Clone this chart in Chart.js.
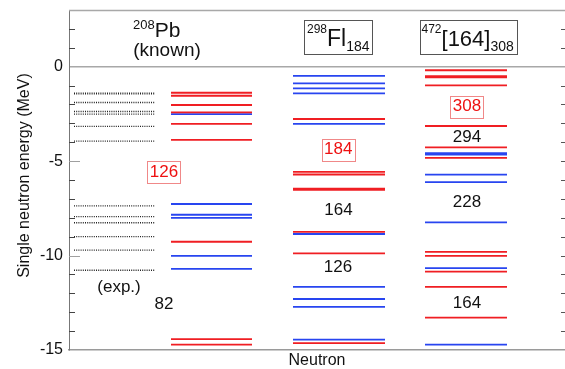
<!DOCTYPE html>
<html><head><meta charset="utf-8">
<script src="https://cdn.jsdelivr.net/npm/chart.js@4/dist/chart.umd.min.js"></script>
<style>html,body{margin:0;padding:0;background:#fff}canvas{display:block}</style>
</head><body>
<canvas id="c" width="565" height="369"></canvas>
<script>
// ---- data (MeV) ----
const expLevels = [-1.40, -1.44, -1.90, -2.37, -2.51, -3.16, -3.94, -7.37, -7.94, -8.26, -9.00, -9.71, -10.78];
const pbRed  = [-1.38, -1.54, -2.03, -2.42, -3.03, -3.88, -9.27, -14.42, -14.72];
const pbBlue = [-2.51, -7.27, -7.84, -8.00, -10.02, -10.71];
const flRed  = [-2.77, -5.57, -5.71, -6.46, -6.52, -8.75, -9.88, -14.64];
const flBlue = [-0.49, -0.88, -1.15, -1.41, -3.03, -8.86, -11.66, -12.30, -12.72, -14.45];
const sheRed  = [-0.19, -0.50, -0.56, -0.99, -3.14, -4.27, -4.83, -9.81, -10.02, -10.85, -11.66, -13.29];
const sheBlue = [-4.58, -4.66, -5.72, -6.11, -8.24, -10.67, -14.72];
const magicLabels = ['(exp.)', '82', '126', '184', '164', '126', '308', '294', '228', '164'];
const yTickLabels = [0, -5, -10, -15];

// ---- layout (not data) ----
const FONT = '"Liberation Sans", Arial, Helvetica, sans-serif';
const RED = '#f01e23', BLUE = '#2845f0';
const cols = { exp: [5, 86], pb: [102, 183], fl: [224, 316], she: [356, 438] };
const labelPos = [
  {x: 50, y: -11.66, box: false, color: '#111'},
  {x: 95, y: -12.56, box: false, color: '#111'},
  {x: 95, y: -5.58, box: true, color: '#ee1111'},
  {x: 269.3, y: -4.40, box: true, color: '#ee1111'},
  {x: 269.5, y: -7.59, box: false, color: '#111'},
  {x: 269, y: -10.64, box: false, color: '#111'},
  {x: 398, y: -2.11, box: true, color: '#ee1111'},
  {x: 398, y: -3.72, box: false, color: '#111'},
  {x: 398, y: -7.16, box: false, color: '#111'},
  {x: 398, y: -12.53, box: false, color: '#111'}
];

function segs(levels, span) {
  const d = [];
  levels.forEach(E => { d.push({x: span[0], y: E}, {x: span[1], y: E}, {x: span[1], y: null}); });
  return d;
}
function ds(levels, span, color, extra) {
  return Object.assign({
    data: segs(levels, span), borderColor: color, borderWidth: 1.8,
    pointRadius: 0, spanGaps: false, fill: false, tension: 0
  }, extra || {});
}

const overlay = {
  id: 'overlay',
  afterDatasetsDraw(chart) {
    const {ctx, chartArea: a, scales: {x, y}} = chart;
    const X = v => x.getPixelForValue(v), Y = v => y.getPixelForValue(v);
    ctx.save();
    // top border
    ctx.strokeStyle = '#a8a8a8'; ctx.lineWidth = 1.5;
    ctx.beginPath(); ctx.moveTo(a.left, a.top + 0.5); ctx.lineTo(a.right, a.top + 0.5); ctx.stroke();
    // inward ticks
    ctx.lineWidth = 1;
    for (let v = -14; v <= 2; v++) {
      if (v === 0) continue;
      const major = v % 5 === 0;
      const py = Math.round(Y(v)) + 0.5;
      ctx.strokeStyle = major ? '#a0a0a0' : '#444';
      ctx.beginPath(); ctx.moveTo(a.left, py); ctx.lineTo(a.left + (major ? 11 : 6), py); ctx.stroke();
      ctx.strokeStyle = '#555';
      ctx.beginPath(); ctx.moveTo(a.right - 4, py); ctx.lineTo(a.right, py); ctx.stroke();
    }
    // magic-number labels
    ctx.font = '17px ' + FONT; ctx.textAlign = 'center'; ctx.textBaseline = 'middle';
    magicLabels.forEach((t, i) => {
      const p = labelPos[i], px = X(p.x), py = Y(p.y);
      if (p.box) {
        const w = ctx.measureText(t).width + 5;
        ctx.strokeStyle = '#f08888'; ctx.lineWidth = 1;
        ctx.strokeRect(Math.round(px - w / 2) + 0.5, Math.round(py - 11) + 0.5, Math.round(w), 22);
      }
      ctx.fillStyle = p.color; ctx.fillText(t, px, py);
    });
    // nucleus titles: sequences of [text, size, baselineE]
    ctx.textAlign = 'left'; ctx.textBaseline = 'alphabetic'; ctx.fillStyle = '#111';
    const run = (xu, parts) => {
      let px = X(xu);
      parts.forEach(([t, size, E]) => {
        ctx.font = size + 'px ' + FONT; ctx.fillText(t, px, Y(E)); px += ctx.measureText(t).width;
      });
    };
    run(64, [['208', 13, 1.994], ['Pb', 21, 1.571]]);
    ctx.textAlign = 'center'; ctx.font = '19px ' + FONT; ctx.fillText('(known)', X(98), Y(0.565)); ctx.textAlign = 'left';
    ctx.strokeStyle = '#555'; ctx.lineWidth = 1;
    const box = (x0, x1) => { const yt = Math.round(Y(2.471)) + 0.5, yb = Math.round(Y(0.671)) + 0.5;
      ctx.strokeRect(Math.round(X(x0)) + 0.5, yt, Math.round(X(x1) - X(x0)), yb - yt); };
    box(235.3, 303);
    run(238, [['298', 12, 1.782], ['Fl', 23, 1.094], ['184', 14, 0.829]]);
    box(350.5, 447);
    run(352.5, [['472', 12, 1.782], ['[164]', 22, 1.094], ['308', 14, 0.829]]);
    ctx.restore();
  }
};

new Chart(document.getElementById('c'), {
  type: 'line',
  data: {
    datasets: [
      ds(expLevels, cols.exp, '#222', {borderWidth: 1.4, borderDash: [1, 1.2]}),
      ds(pbRed, cols.pb, RED), ds(pbBlue, cols.pb, BLUE),
      ds(flRed, cols.fl, RED), ds(flBlue, cols.fl, BLUE),
      ds(sheRed, cols.she, RED), ds(sheBlue, cols.she, BLUE)
    ]
  },
  options: {
    responsive: false, animation: false, devicePixelRatio: 1,
    layout: {padding: {top: 10, right: 0, left: 0, bottom: 0}},
    plugins: {legend: {display: false}, tooltip: {enabled: false}},
    scales: {
      x: {
        type: 'linear', min: 0, max: 496,
        ticks: {display: false}, grid: {display: false},
        border: {display: true, color: '#9a9a9a', width: 1.5},
        title: {display: true, text: 'Neutron', color: '#111', font: {family: FONT, size: 16, lineHeight: 1}, padding: {top: 0, bottom: 0}},
        afterFit(s) { s.height = 19; s.paddingLeft = 0; s.paddingRight = 0; }
      },
      y: {
        type: 'linear', min: -15, max: 3,
        ticks: {stepSize: 1, autoSkip: false, padding: 6, color: '#111', font: {family: FONT, size: 16},
          callback: v => yTickLabels.includes(v) ? String(v) : ''},
        grid: {drawTicks: false, lineWidth: 1.5,
          color: c => (c.tick && c.tick.value === 0) ? '#a8a8a8' : 'rgba(0,0,0,0)'},
        border: {display: true, color: '#777', width: 1},
        title: {display: true, text: '  Single neutron energy (MeV)', color: '#111', font: {family: FONT, size: 16, lineHeight: 1}, padding: {top: 17, bottom: 0}},
        afterFit(s) { s.width = 69; s.paddingTop = 0; s.paddingBottom = 0; }
      }
    }
  },
  plugins: [overlay]
});
</script>
</body></html>
